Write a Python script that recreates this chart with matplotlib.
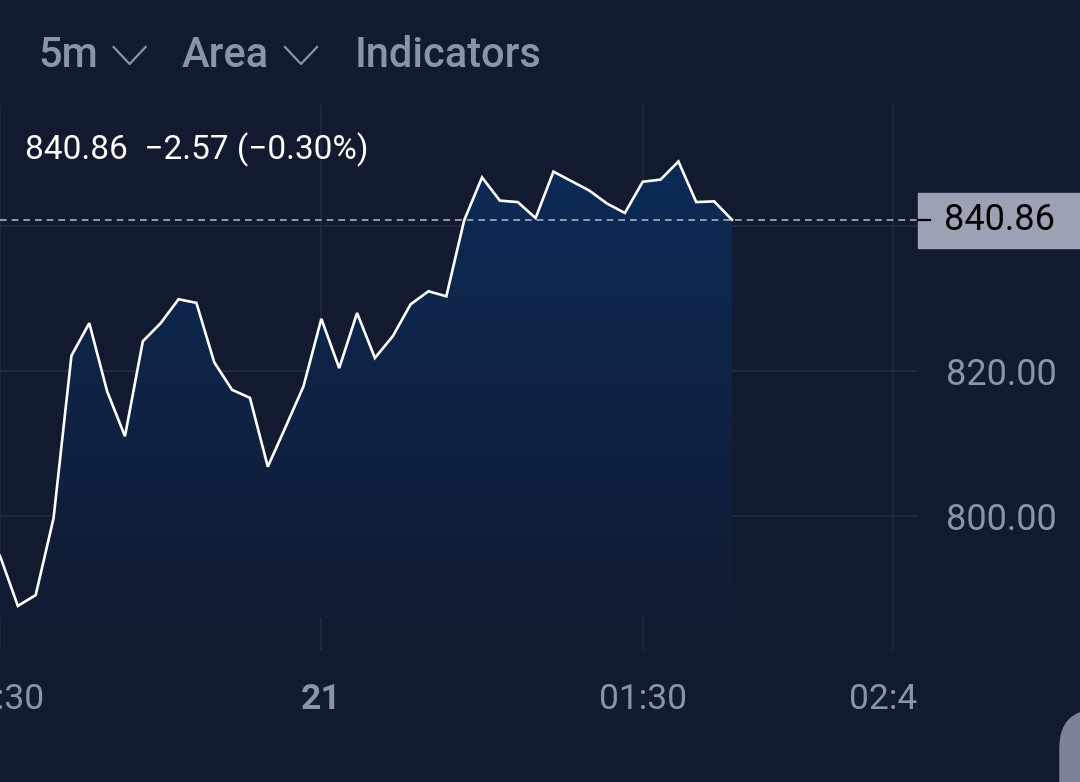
import numpy as np
import matplotlib.pyplot as plt
from matplotlib.lines import Line2D
from matplotlib.patches import Rectangle, FancyBboxPatch
from matplotlib.colors import to_rgb
from matplotlib.transforms import Bbox, TransformedBbox

plt.rcParams['font.family'] = ['Roboto', 'DejaVu Sans']

# minutes from midnight (the "21" tick), one point every 5 min
minutes = [-90, -85, -80, -75, -70, -65, -60, -55, -50, -45, -40, -35, -30,
           -25, -20, -15, -10, -5, 0, 5, 10, 15, 20, 25, 30, 35, 40, 45, 50,
           55, 60, 65, 70, 75, 80, 85, 90, 95, 100, 105, 110, 115]
prices = [794.5, 787.6, 789.1, 799.7, 822.1, 826.6, 817.2, 811.0, 824.1,
          826.6, 829.9, 829.4, 821.2, 817.4, 816.3, 806.8, 812.3, 817.9,
          827.2, 820.4, 828.0, 821.8, 824.8, 829.2, 831.0, 830.3, 840.8,
          846.7, 843.5, 843.3, 841.1, 847.5, 846.2, 844.9, 843.1, 841.8,
          846.1, 846.4, 848.9, 843.3, 843.4, 840.86]
last_price = 840.86
price_ticks = [800, 820, 840]
price_labels = ['800.00', '820.00', '']
time_ticks = [-90, 0, 90, 160]
time_labels = ['23:30', '21', '01:30', '02:40']

BG = '#121a30'
GRID = '#1f283e'
MUTED = '#8a93a8'

W, H = 1080, 782
fig = plt.figure(figsize=(W / 100, H / 100), dpi=100, facecolor=BG)


def fx(px):
    return px / W


def fy(py):
    return 1 - py / H


ax = fig.add_axes([0, fy(650), fx(918), fy(105) - fy(650)])
ax.set_facecolor(BG)
for s in ax.spines.values():
    s.set_visible(False)

for t in time_ticks:
    ax.axvline(t, color=GRID, lw=1.3, zorder=0)
for p in price_ticks:
    ax.axhline(p, color=GRID, lw=1.5, zorder=0)

# gradient area under the line
base = 786.0
poly = ax.fill_between(minutes, prices, base, facecolor='none', edgecolor='none')
top_c = np.array(to_rgb('#0b2b57'))
bot_c = np.array(to_rgb('#121b33'))
n = 256
fr = np.linspace(0, 1, n)[:, None]
grad = top_c[None, :] * (1 - fr) + bot_c[None, :] * fr
img = np.repeat(grad[:, None, :], 2, axis=1)
im = ax.imshow(img, extent=[minutes[0], minutes[-1], base, 849.5],
               aspect='auto', origin='upper', zorder=1)
im.set_clip_path(poly.get_paths()[0], transform=ax.transData)
ax.set_xlim(-87.9, 167.1)
ax.set_ylim(781.52, 856.69)

ax.plot(minutes, prices, color='white', lw=1.9, zorder=3,
        solid_joinstyle='miter')
ax.axhline(last_price, color='#a8afc0', lw=1.2, ls=(0, (4, 3)), zorder=2)

ax.yaxis.tick_right()
ax.set_yticks(price_ticks)
ax.set_yticklabels(price_labels)
ax.tick_params(axis='y', length=0, pad=20, labelsize=26, labelcolor=MUTED)
ax.set_xticks(time_ticks)
ax.set_xticklabels(time_labels)
ax.tick_params(axis='x', length=0, pad=24, labelsize=25.5, labelcolor=MUTED)
clip = TransformedBbox(Bbox([[0, 0], [fx(918), 1]]), fig.transFigure)
for lab in ax.get_xticklabels():
    lab.set_clip_on(True)
    lab.set_clip_box(clip)
    if lab.get_text() == '21':
        lab.set_fontweight('bold')

# last price badge
fig.patches.append(Rectangle((fx(918), fy(247.7)), fx(162), fy(193) - fy(247.7),
                             transform=fig.transFigure, color='#9ba2b4'))
fig.lines.append(Line2D([fx(918), fx(930)], [fy(220), fy(220)],
                        transform=fig.transFigure, color='black', lw=1.6))
fig.text(fx(1055), fy(220), '840.86', color='black', fontsize=26,
         ha='right', va='center')

# header
fig.text(fx(25), fy(159), '840.86  \u22122.57 (\u22120.30%)', color='white',
         fontsize=24, va='baseline')
fig.text(fx(38), fy(67), '5m', color=MUTED, fontsize=30, fontweight='medium',
         va='baseline')
fig.text(fx(182), fy(67), 'Area', color=MUTED, fontsize=30, fontweight='medium',
         va='baseline')
fig.text(fx(355), fy(67), 'Indicators', color=MUTED, fontsize=30,
         fontweight='medium', va='baseline')
for x0 in (113.6, 285):
    fig.lines.append(Line2D([fx(x0), fx(x0 + 16), fx(x0 + 32)],
                            [fy(47), fy(64), fy(47)],
                            transform=fig.transFigure, color=MUTED, lw=1.6))

# partial button in the corner
fig.patches.append(FancyBboxPatch((fx(1060), fy(830)), fx(80), fy(710) - fy(830),
                                  boxstyle='round,pad=0,rounding_size=0.035',
                                  transform=fig.transFigure, color='#7c8397',
                                  mutation_aspect=1.38))

fig.savefig('out.png', dpi=100, facecolor=BG)
